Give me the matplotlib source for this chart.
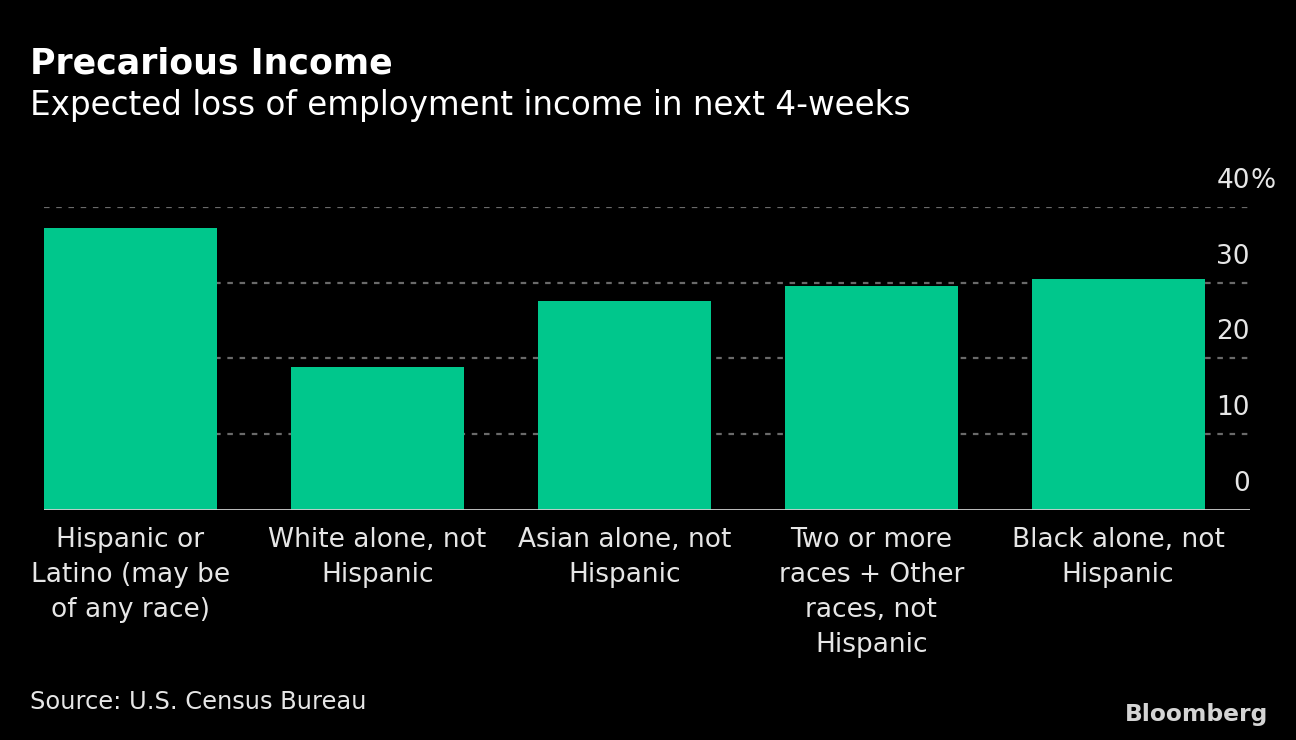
import matplotlib
matplotlib.use("Agg")
import matplotlib.pyplot as plt
from matplotlib.transforms import offset_copy

categories = ["Hispanic or\nLatino (may be\nof any race)",
              "White alone, not\nHispanic",
              "Asian alone, not\nHispanic",
              "Two or more\nraces + Other\nraces, not\nHispanic",
              "Black alone, not\nHispanic"]
values = [37.2, 18.8, 27.6, 29.5, 30.5]
yticks = [0, 10, 20, 30, 40]
ytick_labels = ["0", "10", "20", "30", "40"]

BG = "#000000"
BAR = "#00C78C"
TXT = "#e6e6e6"

plt.rcParams['font.family'] = ['DejaVu Sans']

fig = plt.figure(figsize=(12.96, 7.40), dpi=100, facecolor=BG)
ax = fig.add_axes([44/1296, 1 - 510/740, (1250 - 44)/1296, (510 - 206.7)/740])
ax.set_facecolor(BG)

x = list(range(len(categories)))
ax.bar(x, values, width=0.70, color=BAR, zorder=3)
ax.set_xlim(-0.35, 4.534)
ax.set_ylim(0, 40)

for t in yticks[1:]:
    ax.axhline(t, color="#6a6a6a", lw=1.6, ls=(0, (2.5, 3)), zorder=1)
ax.axhline(0, color="#d0d0d0", lw=2, zorder=4)

for s in ax.spines.values():
    s.set_visible(False)
ax.set_yticks([])
ax.set_xticks(x)
ax.set_xticklabels(categories, color=TXT, fontsize=19, linespacing=1.45)
ax.tick_params(axis="x", length=0, pad=12)

trans = offset_copy(ax.get_yaxis_transform(), fig=fig, x=0, y=26, units="dots")
for t, lab in zip(yticks, ytick_labels):
    ax.text(1.0, t, lab, transform=trans, ha="right", va="center",
            color=TXT, fontsize=19)
ax.text(1.0, 40, "%", transform=trans, ha="left", va="center",
        color=TXT, fontsize=19)

fig.text(30/1296, 1 - 63/740, "Precarious Income", color="white",
         fontsize=25, fontweight="bold", ha="left", va="center")
fig.text(30/1296, 1 - 105/740, "Expected loss of employment income in next 4-weeks",
         color="white", fontsize=23.5, ha="left", va="center")
fig.text(30/1296, 1 - 702/740, "Source: U.S. Census Bureau", color=TXT,
         fontsize=17.4, ha="left", va="center")
fig.text(1268/1296, 1 - 714/740, "Bloomberg", color="#d4d4d4",
         fontsize=16.8, fontweight="bold", ha="right", va="center")

fig.savefig("out.png", dpi=100, facecolor=BG)
